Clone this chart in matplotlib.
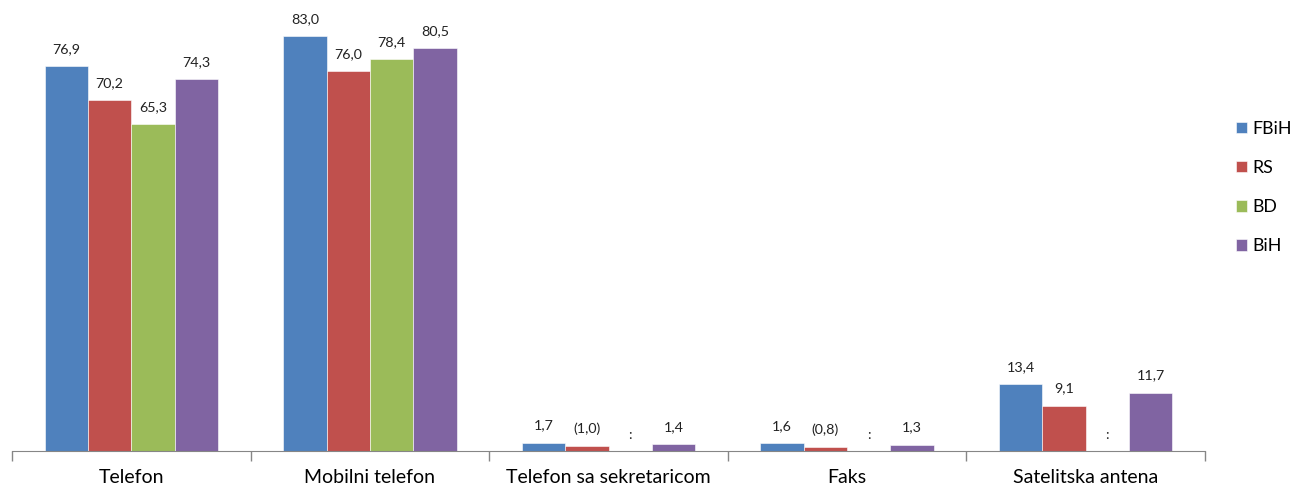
import numpy as np
import matplotlib
matplotlib.use("Agg")
import matplotlib.pyplot as plt
from matplotlib.ticker import FixedLocator

plt.rcParams['font.family'] = ['Lato', 'DejaVu Sans']

categories = ["Telefon", "Mobilni telefon", "Telefon sa sekretaricom", "Faks", "Satelitska antena"]
series = ["FBiH", "RS", "BD", "BiH"]
FBiH = [76.9, 83.0, 1.7, 1.6, 13.4]
RS = [70.2, 76.0, 1.0, 0.8, 9.1]
BD = [65.3, 78.4, np.nan, np.nan, np.nan]
BiH = [74.3, 80.5, 1.4, 1.3, 11.7]
# values shown in parentheses (low reliability)
RS_paren = [False, False, True, True, False]
colors = ["#4F81BD", "#C0504D", "#9BBB59", "#8064A2"]

data = [FBiH, RS, BD, BiH]
parens = [[False]*5, RS_paren, [False]*5, [False]*5]

W, H = 1292, 486
fig = plt.figure(figsize=(W/100, H/100), dpi=100)
base_y = 451
ax = fig.add_axes([12/W, 1-base_y/H, 1193/W, 450/H])

x = np.arange(len(categories))
bw = 0.1817
for i, (vals, name, c) in enumerate(zip(data, series, colors)):
    pos = x + (i - 1.5) * bw
    v = np.array(vals, dtype=float)
    ax.bar(pos, np.nan_to_num(v), width=bw, color=c, label=name,
           edgecolor="white", linewidth=0.4)
    for p, val, par in zip(pos, v, parens[i]):
        if np.isnan(val):
            ax.annotate(":", (p, 0), xytext=(0, 16), textcoords="offset pixels",
                        ha="center", va="center", fontsize=10.3, color="#222222")
        else:
            txt = f"{val:.1f}".replace(".", ",")
            if par:
                txt = f"({txt})"
            ax.annotate(txt, (p, val), xytext=(0, 17), textcoords="offset pixels",
                        ha="center", va="center", fontsize=10.3, color="#222222")

ax.set_xlim(-0.5, len(categories) - 0.5)
ax.set_ylim(0, 90)
ax.set_yticks([])
ax.set_xticks(x)
ax.set_xticklabels(categories, fontsize=14)
ax.tick_params(axis="x", which="major", length=0, pad=13, colors="#000000")
ax.xaxis.set_minor_locator(FixedLocator(np.arange(len(categories) + 1) - 0.5))
ax.tick_params(axis="x", which="minor", length=7, color="#868686", width=1)
for s in ["top", "right", "left"]:
    ax.spines[s].set_visible(False)
ax.spines["bottom"].set_color("#868686")
ax.patch.set_alpha(0)

leg = fig.legend(loc="upper left", bbox_to_anchor=(1236/W, 1-121/H),
                 frameon=False, fontsize=12.8, handlelength=0.6, handleheight=0.6,
                 handletextpad=0.3, labelspacing=1.3, borderaxespad=0, borderpad=0)

fig.savefig("out.png", dpi=100)
